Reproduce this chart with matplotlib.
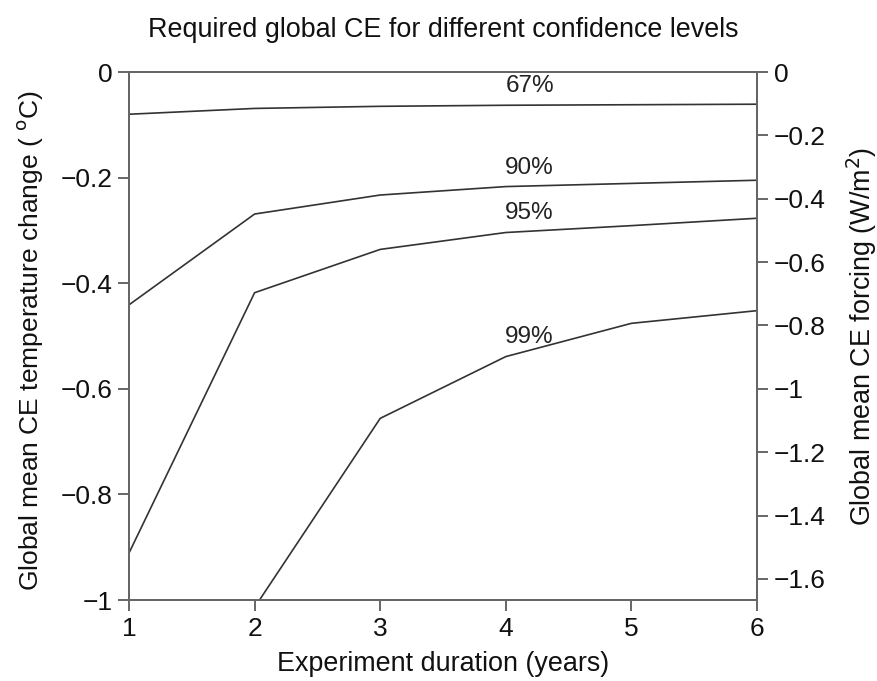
import matplotlib
matplotlib.use("Agg")
import matplotlib.pyplot as plt
from matplotlib.ticker import FuncFormatter, FixedLocator

plt.rcParams['font.family'] = ['Liberation Sans', 'DejaVu Sans']

years = [1, 2, 3, 4, 5, 6]
ce_67 = [-0.080, -0.069, -0.065, -0.063, -0.062, -0.061]
ce_90 = [-0.441, -0.269, -0.233, -0.217, -0.211, -0.205]
ce_95 = [-0.911, -0.418, -0.336, -0.304, -0.291, -0.277]
ce_99 = [-1.60, -1.014, -0.656, -0.539, -0.476, -0.452]
series_labels = ["67%", "90%", "95%", "99%"]
label_x = [4.19, 4.19, 4.19, 4.19]
label_y = [-0.027, -0.181, -0.267, -0.502]
left_ticks = [0, -0.2, -0.4, -0.6, -0.8, -1.0]
right_ticks = [0, -0.2, -0.4, -0.6, -0.8, -1.0, -1.2, -1.4, -1.6]
sensitivity = 0.6  # K per W/m^2

def fmt(v, pos=None):
    s = "%g" % round(v, 3)
    if s in ("-0", "0"):
        return "0"
    return s.replace("-", "\u2212")

fig = plt.figure(figsize=(8.78, 6.81), dpi=100)
ax = fig.add_axes([129/878, 1-600/681, (757-129)/878, (600-72)/681])

line_color = "#333333"
spine_color = "#666666"
text_color = "#111111"
for ys in (ce_67, ce_90, ce_95, ce_99):
    ax.plot(years, ys, color=line_color, lw=1.2, clip_on=True)

for lab, lx, ly in zip(series_labels, label_x, label_y):
    ax.text(lx, ly, lab, ha="center", va="center", fontsize=17.5, color="#222222")

ax.set_xlim(1, 6)
ax.set_ylim(-1, 0)
ax.xaxis.set_major_locator(FixedLocator(years))
ax.yaxis.set_major_locator(FixedLocator(left_ticks))
ax.yaxis.set_major_formatter(FuncFormatter(fmt))

ax2 = ax.twinx()
ax2.set_ylim(-1/sensitivity, 0)
ax2.yaxis.set_major_locator(FixedLocator(right_ticks))
ax2.yaxis.set_major_formatter(FuncFormatter(fmt))

for a in (ax, ax2):
    for sp in a.spines.values():
        sp.set_color(spine_color)
        sp.set_linewidth(1.4)
    a.tick_params(direction="out", length=8, width=1.4, color=spine_color,
                  labelsize=19, labelcolor=text_color, pad=4)

fs_lab = 19.4
ax.set_xlabel("Experiment duration (years)", fontsize=fs_lab, color=text_color,
              va="center")
ax.xaxis.set_label_coords(0.5, (600-664)/528)
ax.set_ylabel("Global mean CE temperature change ( $^{\\mathrm{o}}$C)", fontsize=19,
              color=text_color, va="center", ha="center")
ax.yaxis.set_label_coords((30-129)/628, (600-341)/528)
ax2.set_ylabel("Global mean CE forcing (W/m$^{2}$)", fontsize=fs_lab, color=text_color,
               va="center", ha="center")
ax2.yaxis.set_label_coords((862-129)/628, 0.5)
fig.text(443/878, 1-30/681, "Required global CE for different confidence levels",
         ha="center", va="center", fontsize=fs_lab, color=text_color)

fig.savefig("out.png", dpi=100)
